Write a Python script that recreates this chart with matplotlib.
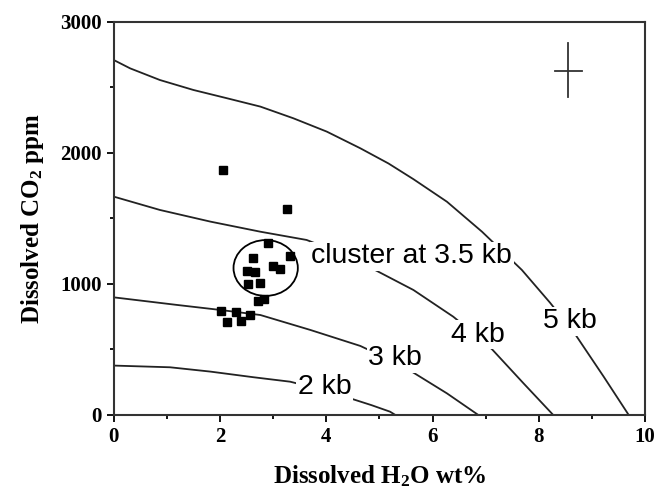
import matplotlib
matplotlib.use("Agg")
import matplotlib.pyplot as plt
from matplotlib.patches import Ellipse
from matplotlib.ticker import MultipleLocator

plt.rcParams["mathtext.fontset"] = "custom"
plt.rcParams["mathtext.rm"] = "Liberation Serif:bold"
plt.rcParams["mathtext.it"] = "Liberation Serif:bold"
plt.rcParams["mathtext.bf"] = "Liberation Serif:bold"

# melt inclusion data (H2O wt%, CO2 ppm)
h2o = [2.05, 3.27, 2.91, 3.31, 2.62, 2.51, 2.65, 3.00, 3.13, 2.52, 2.76,
       2.71, 2.82, 2.02, 2.31, 2.56, 2.13, 2.39]
co2 = [1872, 1571, 1314, 1212, 1202, 1102, 1090, 1140, 1115, 1003, 1006,
       868, 882, 796, 786, 766, 706, 720]

# isobars
iso2_x = [0, 1.06, 1.82, 2.63, 3.32, 3.9, 4.45, 4.85, 5.20, 5.30]
iso2_y = [377, 364, 331, 288, 254, 195, 127, 75, 25, 0]
iso3_x = [0, 1.19, 2.0, 2.76, 3.70, 4.64, 5.15, 5.64, 6.27, 6.86]
iso3_y = [898, 840, 802, 763, 649, 527, 430, 323, 165, 0]
iso4_x = [0, 0.87, 1.82, 2.76, 3.63, 4.3, 4.95, 5.64, 6.39, 6.75, 7.12, 7.71, 8.27]
iso4_y = [1667, 1565, 1476, 1399, 1336, 1230, 1100, 954, 750, 630, 501, 242, 0]
iso5_x = [0, 0.31, 0.87, 1.50, 2.13, 2.76, 3.38, 4.01, 4.64, 5.17, 5.64,
          6.27, 6.93, 7.30, 7.68, 8.21, 8.68, 9.22, 9.69]
iso5_y = [2710, 2646, 2557, 2481, 2418, 2354, 2265, 2163, 2036, 1920, 1800,
          1628, 1399, 1255, 1107, 857, 618, 292, 0]

labels = ["2 kb", "3 kb", "4 kb", "5 kb"]
label_x = [3.97, 5.30, 6.85, 8.58]
label_y = [217, 433, 612, 714]

fig = plt.figure(figsize=(6.57, 4.94), dpi=100)
ax = fig.add_axes([0.173, 0.16, 0.809, 0.7955])

for xs, ys in [(iso2_x, iso2_y), (iso3_x, iso3_y), (iso4_x, iso4_y), (iso5_x, iso5_y)]:
    ax.plot(xs, ys, color="#222222", lw=1.3, zorder=1)

ax.plot(h2o, co2, ls="none", marker="s", ms=6, color="black", zorder=4)

ax.add_patch(Ellipse((2.86, 1122), 1.21, 426, fill=False, ec="black", lw=1.3, zorder=3))

box = dict(facecolor="white", edgecolor="none", pad=1)
for t, x, y in zip(labels, label_x, label_y):
    ax.text(x, y, t, ha="center", va="center", fontsize=20.5, family="Liberation Sans",
            bbox=box, zorder=2)
ax.text(3.72, 1211, "cluster at 3.5 kb", ha="left", va="center", fontsize=20.5,
        family="Liberation Sans", bbox=box, zorder=2)

# error cross
ax.plot([8.54, 8.54], [2425, 2840], color="#333333", lw=1.3)
ax.plot([8.30, 8.81], [2628, 2628], color="#333333", lw=1.3)

ax.set_xlim(0, 10)
ax.set_ylim(0, 3000)
ax.set_xticks([0, 2, 4, 6, 8, 10])
ax.set_yticks([0, 1000, 2000, 3000])
ax.xaxis.set_minor_locator(MultipleLocator(1))
ax.yaxis.set_minor_locator(MultipleLocator(500))
ax.tick_params(which="major", length=5, width=1.3, labelsize=15)
ax.tick_params(which="minor", length=3, width=1.3)
for lab in ax.get_xticklabels() + ax.get_yticklabels():
    lab.set_family("Liberation Serif")
    lab.set_fontweight("bold")
for s in ax.spines.values():
    s.set_linewidth(1.5)
    s.set_color("#333333")

ax.set_xlabel("Dissolved H$_2$O wt%", fontsize=18, family="Liberation Serif",
              fontweight="bold", labelpad=12)
ax.set_ylabel("Dissolved CO$_2$ ppm", fontsize=18, family="Liberation Serif",
              fontweight="bold", labelpad=10)

fig.savefig("out.png", dpi=100)
